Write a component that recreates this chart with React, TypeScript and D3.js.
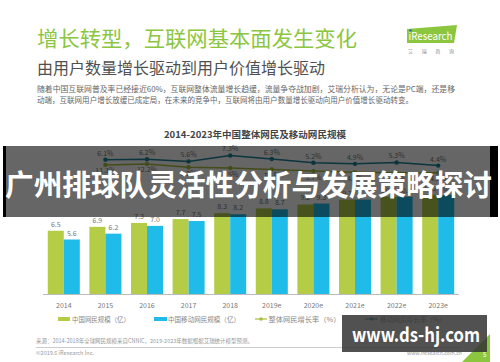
import React from "react";
import * as d3 from "d3";

const years = ["2014", "2015", "2016", "2017", "2018", "2019e", "2020e", "2021e", "2022e", "2023e"];
const netUsers = [6.5, 6.9, 7.3, 7.7, 8.3, 8.8, 9.2, 9.7, 10.0, 10.2];
const mobileUsers = [5.6, 6.2, 7.0, 7.5, 8.2, 8.7, 9.3, 9.7, 10.0, 10.2];
const rateYears = ["2015", "2016", "2017", "2018", "2019e", "2020e", "2021e", "2022e", "2023e"];
const upperRate = [6.1, 6.2, 5.6, 7.3, 6.3, 5.2, 4.9, 5.3, 4.4];
const lowerRate = [11.3, 12.2, 9.2, 8.5, 7.1, 5.7, 4.6, 4.2, 4.3];
const legendLabels = ["中国网民规模（亿）", "中国移动网民规模（亿）", "整体网民增长率（%）", "移动网民增长率（%）"];

const GREEN = "#b5cc47";
const BLUE = "#1fbce9";
const OLIVE = "#a9bd3e";
const TEAL = "#1d8496";
const FONT = "'Noto Sans CJK SC', 'Noto Sans', sans-serif";

export default function App() {
  const W = 500, H = 362;
  const x = d3.scaleBand<string>().domain(years).range([43, 459]).paddingInner(0.23).paddingOuter(0.115);
  const y = d3.scaleLinear().domain([0, 10]).range([294, 196.7]);
  const yUp = d3.scaleLinear().domain([4, 8]).range([167, 153]);
  const yLow = d3.scaleLinear().domain([4, 13]).range([173, 163]);
  const bw = x.bandwidth() / 2;
  const cx = (d: string) => (x(d) as number) + x.bandwidth() / 2;
  const lineUp = d3.line<number>().x((_, i) => cx(rateYears[i])).y((v) => yUp(v));
  const lineLow = d3.line<number>().x((_, i) => cx(rateYears[i])).y((v) => yLow(v));

  return (
    <div style={{ position: "absolute", left: 0, top: 0 }}>
      <svg width={W} height={H} style={{ display: "block", fontFamily: FONT }}>
        <rect x={0} y={0} width={W} height={H} fill="#ffffff" />
        {/* header */}
        <text x={37} y={46} fontSize={21} fill="#8cc63f" textLength={320} lengthAdjust="spacingAndGlyphs">增长转型，互联网基本面发生变化</text>
        <text x={37} y={74} fontSize={16} fill="#505050" textLength={288} lengthAdjust="spacingAndGlyphs">由用户数量增长驱动到用户价值增长驱动</text>
        <text x={37} y={92} fontSize={7.6} fill="#666" textLength={418} lengthAdjust="spacingAndGlyphs">随着中国互联网普及率已经接近60%，互联网整体流量增长趋缓，流量争夺战加剧，艾瑞分析认为，无论是PC端，还是移</text>
        <text x={37} y={102.5} fontSize={7.6} fill="#666" textLength={376} lengthAdjust="spacingAndGlyphs">动端，互联网用户增长放缓已成定局，在未来的竞争中，互联网将由用户数量增长驱动向用户价值增长驱动转变。</text>
        {/* logo */}
        <polygon points="407,29 457,25 454,43 407,43" fill="#8cc63f" />
        <circle cx={410.5} cy={30.5} r={1.3} fill="#1b75bb" />
        <text x={408.5} y={40} fontSize={11} fill="#fff" textLength={44} lengthAdjust="spacingAndGlyphs">iResearch</text>
        <text x={408} y={52.5} fontSize={5} fill="#888" textLength={46} lengthAdjust="spacing">艾瑞咨询</text>

        {/* chart title */}
        <text x={255} y={138} fontSize={9.5} fontWeight="bold" fill="#444" textAnchor="middle" textLength={182} lengthAdjust="spacingAndGlyphs">2014-2023年中国整体网民及移动网民规模</text>

        {/* bars */}
        {years.map((yr, i) => (
          <g key={yr}>
            <rect x={x(yr)} y={y(netUsers[i])} width={bw} height={294 - y(netUsers[i])} fill={GREEN} />
            <rect x={(x(yr) as number) + bw} y={y(mobileUsers[i])} width={bw} height={294 - y(mobileUsers[i])} fill={BLUE} />
            <text x={(x(yr) as number) + bw / 2} y={y(netUsers[i]) - 4} fontSize={7} fill="#777" textAnchor="middle">{netUsers[i].toFixed(1)}</text>
            <text x={(x(yr) as number) + bw * 1.5} y={y(mobileUsers[i]) - 4} fontSize={7} fill="#777" textAnchor="middle">{mobileUsers[i].toFixed(1)}</text>
            <text x={cx(yr)} y={307.5} fontSize={7} fill="#777" textAnchor="middle">{yr}</text>
          </g>
        ))}
        <line x1={43} x2={459} y1={294.5} y2={294.5} stroke="#bbb" strokeWidth={1} />

        {/* lines */}
        <path d={lineLow(lowerRate) || ""} fill="none" stroke={OLIVE} strokeWidth={1.5} />
        {lowerRate.map((v, i) => (
          <g key={"l" + i}>
            <circle cx={cx(rateYears[i])} cy={yLow(v)} r={2.2} fill={OLIVE} />
            <text x={cx(rateYears[i])} y={yLow(v) + 8.5} fontSize={7} fill="#777" textAnchor="middle">{v.toFixed(1)}%</text>
          </g>
        ))}
        <path d={lineUp(upperRate) || ""} fill="none" stroke={TEAL} strokeWidth={1.5} />
        {upperRate.map((v, i) => (
          <g key={"u" + i}>
            <circle cx={cx(rateYears[i])} cy={yUp(v)} r={2.2} fill={TEAL} />
            <text x={cx(rateYears[i])} y={yUp(v) - 4} fontSize={7} fill="#777" textAnchor="middle">{v.toFixed(1)}%</text>
          </g>
        ))}

        {/* legend */}
        <rect x={58} y={317} width={12} height={4} fill={GREEN} />
        <text x={72} y={321.5} fontSize={6.5} fill="#888" textLength={58} lengthAdjust="spacingAndGlyphs">{legendLabels[0]}</text>
        <rect x={154} y={317} width={13} height={4} fill={BLUE} />
        <text x={168} y={321.5} fontSize={6.5} fill="#888" textLength={72} lengthAdjust="spacingAndGlyphs">{legendLabels[1]}</text>
        <line x1={255} x2={267} y1={319} y2={319} stroke={OLIVE} strokeWidth={1.2} />
        <circle cx={261} cy={319} r={1.8} fill={OLIVE} />
        <text x={268.5} y={321.5} fontSize={6.5} fill="#888" textLength={72} lengthAdjust="spacingAndGlyphs">{legendLabels[2]}</text>
        <line x1={365} x2={378} y1={319} y2={319} stroke={TEAL} strokeWidth={1.2} />
        <circle cx={371.5} cy={319} r={1.8} fill={TEAL} />
        <text x={380} y={321.5} fontSize={6.5} fill="#888" textLength={66} lengthAdjust="spacingAndGlyphs">{legendLabels[3]}</text>

        {/* footer */}
        <text x={36} y={342.5} fontSize={5.5} fill="#999" textLength={217} lengthAdjust="spacingAndGlyphs">来源：2014-2018年全球网民规模来自CNNIC，2019-2023年数据根据艾瑞统计模型预测。</text>
        <line x1={36} x2={462} y1={347.5} y2={347.5} stroke="#aaa" strokeWidth={0.6} />
        <text x={36} y={355} fontSize={5.5} fill="#999" textLength={58} lengthAdjust="spacingAndGlyphs">©2019.6 iResearch Inc.</text>
        <text x={407} y={355} fontSize={5.5} fill="#999" textLength={55} lengthAdjust="spacingAndGlyphs">www.iresearch.com.cn</text>
        <polygon points="462,362 490,334 490,362" fill="#8cc63f" />
        <text x={483} y={357} fontSize={6} fill="#fff">5</text>

        {/* overlay banner */}
        <rect x={3} y={146} width={495} height={71} fill="#000" fillOpacity={0.6} />
        <rect x={3} y={146} width={3} height={71} fill="#000" />
        <rect x={490} y={146} width={8} height={71} fill="#000" />
        <text x={5} y={196} fontSize={29} fontWeight="bold" fill="#fff" textLength={487} lengthAdjust="spacingAndGlyphs">广州排球队灵活性分析与发展策略探讨</text>

        {/* watermark */}
        <rect x={342} y={315} width={145} height={37} fill="#333" fillOpacity={0.85} />
        <text x={352} y={342} fontSize={20} fontWeight="bold" fill="#fff" textLength={128} lengthAdjust="spacingAndGlyphs">www.ds-hj.com</text>
      </svg>
    </div>
  );
}
